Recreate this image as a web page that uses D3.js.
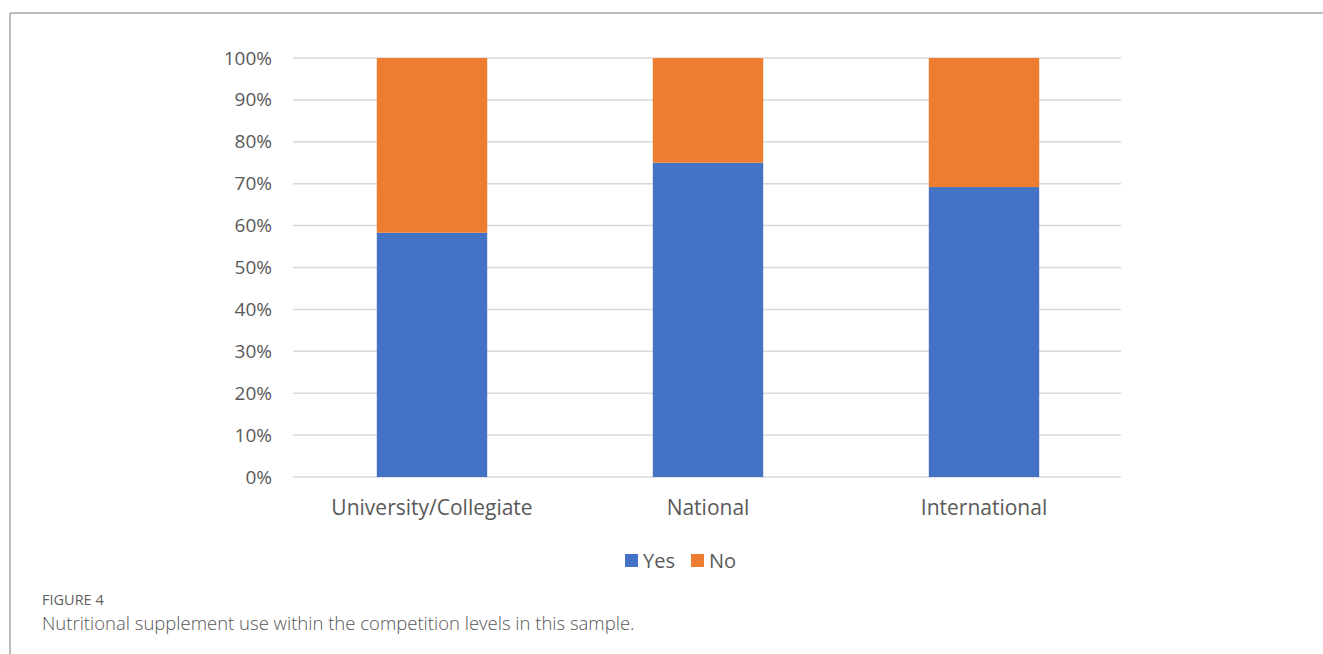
<!DOCTYPE html>
<html>
<head>
<meta charset="utf-8">
<script src="https://cdn.jsdelivr.net/npm/d3@7"></script>
<style>
  html, body { margin: 0; padding: 0; background: #fff; }
  svg { display: block; }
</style>
</head>
<body>
<svg id="chart" width="1323" height="654"></svg>
<script>
// Competition levels and share of athletes using supplements (%)
const categories = ["University/Collegiate", "National", "International"];
const yesValues = [58.3, 75.0, 69.2];
const noValues = [41.7, 25.0, 30.8];
const seriesNames = ["Yes", "No"];
const seriesColors = ["#4472C4", "#ED7D31"];
const tickValues = [0, 10, 20, 30, 40, 50, 60, 70, 80, 90, 100];

const svg = d3.select("#chart");
const W = 1323, H = 654;

// Panel frame: top and left rules
svg.append("line").attr("x1", 10).attr("x2", W).attr("y1", 13).attr("y2", 13)
  .attr("stroke", "#a6a6a6").attr("stroke-width", 1.5);
svg.append("line").attr("x1", 10).attr("x2", 10).attr("y1", 13).attr("y2", H)
  .attr("stroke", "#a6a6a6").attr("stroke-width", 1.5);

const plot = { left: 294, right: 1122, top: 58, bottom: 477 };

const x = d3.scaleBand().domain(categories)
  .range([plot.left, plot.right]).paddingInner(0.6).paddingOuter(0.3);
const y = d3.scaleLinear().domain([0, 100]).range([plot.bottom, plot.top]);

const font = "'Open Sans', 'Noto Sans', sans-serif";

// Gridlines
svg.append("g").selectAll("line").data(tickValues).join("line")
  .attr("x1", plot.left - 1).attr("x2", plot.right - 1)
  .attr("y1", d => y(d)).attr("y2", d => y(d))
  .attr("stroke", "#d9d9d9").attr("stroke-width", 1.5);

// Y axis labels
const yAxis = d3.axisLeft(y).tickValues(tickValues).tickFormat(d => d + "%").tickSize(0).tickPadding(22);
const yg = svg.append("g").attr("transform", `translate(${plot.left},0)`).call(yAxis);
yg.select(".domain").remove();
yg.selectAll("text").attr("font-family", font).attr("font-size", 19).attr("fill", "#595959");

// Stacked bars
const rows = categories.map((c, i) => ({ cat: c, Yes: yesValues[i], No: noValues[i] }));
const stacked = d3.stack().keys(seriesNames)(rows);
const color = d3.scaleOrdinal().domain(seriesNames).range(seriesColors);

svg.append("g").selectAll("g").data(stacked).join("g")
  .attr("fill", d => color(d.key))
  .selectAll("rect").data(d => d).join("rect")
  .attr("x", d => x(d.data.cat))
  .attr("width", x.bandwidth())
  .attr("y", d => y(d[1]))
  .attr("height", d => y(d[0]) - y(d[1]));

// X axis labels
const xAxis = d3.axisBottom(x).tickSize(0).tickPadding(23);
const xg = svg.append("g").attr("transform", `translate(0,${plot.bottom})`).call(xAxis);
xg.select(".domain").remove();
xg.selectAll("text").attr("font-family", font).attr("font-size", 21).attr("fill", "#595959");

// Legend
const legend = svg.append("g");
const legendItems = [
  { name: seriesNames[0], color: seriesColors[0], x: 625 },
  { name: seriesNames[1], color: seriesColors[1], x: 691 }
];
legendItems.forEach(it => {
  legend.append("rect").attr("x", it.x).attr("y", 554).attr("width", 13).attr("height", 13).attr("fill", it.color);
  legend.append("text").attr("x", it.x + 18).attr("y", 568)
    .attr("font-family", font).attr("font-size", 20).attr("fill", "#595959").text(it.name);
});

// Caption
svg.append("text").attr("x", 42).attr("y", 605)
  .attr("font-family", font).attr("font-size", 14.5).attr("fill", "#5f5f5f")
  .text("FIGURE 4");
svg.append("text").attr("x", 42).attr("y", 630)
  .attr("font-family", font).attr("font-weight", 300).attr("font-size", 18.5).attr("fill", "#555")
  .text("Nutritional supplement use within the competition levels in this sample.");
</script>
</body>
</html>
